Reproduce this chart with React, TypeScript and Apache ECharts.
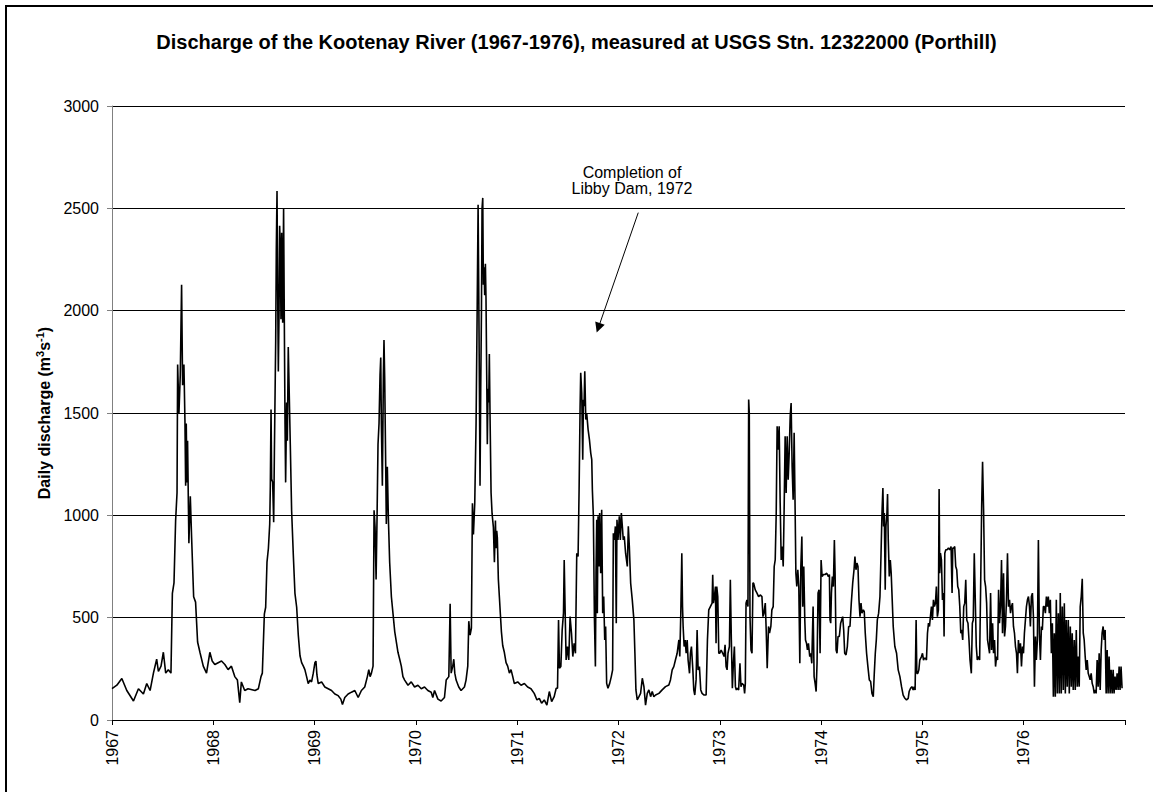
import React, { useEffect, useRef } from "react";
import * as echarts from "echarts";

// Daily discharge (m3/s), as [decimal year, value]
const q1967: [number, number][] = [
  [1967.000,153],[1967.048,170],[1967.097,203],[1967.146,144],[1967.212,93],[1967.261,153],[1967.310,127],[1967.343,178],[1967.376,144],[1967.409,229],[1967.441,297],[1967.458,237],[1967.484,263],[1967.507,331],[1967.530,229],[1967.556,246],[1967.582,229],[1967.596,619],[1967.612,670],[1967.628,975],[1967.642,1110],[1967.648,1737],[1967.661,1500],[1967.674,1686],[1967.687,2127],[1967.697,1636],[1967.710,1737],[1967.720,1466],[1967.727,1144],[1967.733,1449],[1967.740,1161],[1967.746,1364],[1967.759,864],[1967.773,1093],[1967.786,890],[1967.806,602],[1967.825,576],[1967.845,381],[1967.868,331],[1967.901,263],[1967.933,229],[1967.966,331],[1967.989,288]
];
const q1968: [number, number][] = [
  [1968.015,271],[1968.048,280],[1968.081,288],[1968.114,271],[1968.146,246],[1968.179,263],[1968.212,212],[1968.238,195],[1968.261,85],[1968.277,186],[1968.310,144],[1968.343,153],[1968.412,144],[1968.445,153],[1968.471,212],[1968.484,229],[1968.504,517],[1968.517,551],[1968.530,771],[1968.544,839],[1968.557,958],[1968.563,1144],[1968.570,1517],[1968.576,1178],[1968.586,1161],[1968.596,966],[1968.603,1305],[1968.616,1856],[1968.622,2297],[1968.629,2585],[1968.635,2127],[1968.642,1703],[1968.649,1992],[1968.655,2415],[1968.662,2297],[1968.668,1958],[1968.675,2381],[1968.685,1941],[1968.694,2500],[1968.701,1958],[1968.708,1449],[1968.714,1161],[1968.724,1551],[1968.731,1364],[1968.740,1822],[1968.750,1585],[1968.760,1347],[1968.773,1025],[1968.790,805],[1968.806,619],[1968.823,551],[1968.839,415],[1968.856,314],[1968.872,280],[1968.889,263],[1968.904,246],[1968.921,212],[1968.937,178],[1968.954,195],[1968.970,186],[1968.987,229]
];
const q1969: [number, number][] = [
  [1969.003,280],[1969.013,288],[1969.023,220],[1969.036,178],[1969.069,186],[1969.101,161],[1969.134,153],[1969.167,144],[1969.200,127],[1969.233,119],[1969.259,102],[1969.275,76],[1969.298,110],[1969.331,127],[1969.364,136],[1969.397,144],[1969.430,110],[1969.462,144],[1969.495,161],[1969.521,212],[1969.535,246],[1969.548,212],[1969.561,229],[1969.577,263],[1969.587,1025],[1969.597,941],[1969.607,687],[1969.617,1008],[1969.626,1347],[1969.636,1449],[1969.646,1686],[1969.653,1771],[1969.659,1449],[1969.669,1144],[1969.679,1686],[1969.685,1856],[1969.692,1669],[1969.702,1237],[1969.708,958],[1969.718,1237],[1969.728,992],[1969.741,771],[1969.758,602],[1969.791,432],[1969.823,331],[1969.840,297],[1969.856,263],[1969.872,212],[1969.889,195],[1969.922,170],[1969.954,186],[1969.987,161]
];
const q1970: [number, number][] = [
  [1970.020,170],[1970.053,153],[1970.085,161],[1970.118,144],[1970.151,136],[1970.167,110],[1970.184,144],[1970.217,102],[1970.249,93],[1970.282,110],[1970.299,195],[1970.325,212],[1970.338,568],[1970.348,229],[1970.364,263],[1970.374,297],[1970.384,229],[1970.397,195],[1970.423,161],[1970.446,144],[1970.479,161],[1970.495,195],[1970.512,263],[1970.522,483],[1970.535,415],[1970.548,449],[1970.558,1059],[1970.568,907],[1970.581,1059],[1970.594,1449],[1970.604,1958],[1970.614,2517],[1970.620,2127],[1970.627,1619],[1970.633,1144],[1970.640,1619],[1970.647,1992],[1970.653,2500],[1970.660,2551],[1970.666,2127],[1970.673,2212],[1970.679,2076],[1970.686,2229],[1970.692,2059],[1970.699,1686],[1970.705,1347],[1970.712,1619],[1970.719,1551],[1970.725,1788],[1970.732,1483],[1970.742,1110],[1970.752,1008],[1970.765,941],[1970.775,771],[1970.785,975],[1970.791,839],[1970.798,924],[1970.804,890],[1970.814,687],[1970.824,602],[1970.834,517],[1970.844,432],[1970.857,364],[1970.873,331],[1970.890,280],[1970.906,263],[1970.923,229],[1970.939,246],[1970.956,212],[1970.972,178]
];
const q1971: [number, number][] = [
  [1971.005,186],[1971.038,170],[1971.071,178],[1971.103,161],[1971.136,153],[1971.168,130],[1971.195,98],[1971.218,106],[1971.241,82],[1971.267,98],[1971.293,73],[1971.317,139],[1971.340,90],[1971.365,114],[1971.385,155],[1971.398,155],[1971.408,489],[1971.417,253],[1971.431,261],[1971.444,440],[1971.457,522],[1971.464,782],[1971.473,538],[1971.483,293],[1971.496,359],[1971.509,293],[1971.522,505],[1971.536,424],[1971.549,310],[1971.562,375],[1971.575,326],[1971.588,815],[1971.601,799],[1971.611,1125],[1971.621,1533],[1971.627,1696],[1971.637,1598],[1971.647,1272],[1971.654,1565],[1971.660,1533],[1971.667,1704],[1971.677,1468],[1971.686,1500],[1971.700,1419],[1971.713,1370],[1971.726,1304],[1971.736,1272],[1971.742,1125],[1971.752,995],[1971.762,505],[1971.772,261],[1971.778,717],[1971.785,978],[1971.791,522],[1971.798,995],[1971.808,750],[1971.814,1011],[1971.824,717],[1971.834,1027],[1971.844,522],[1971.854,603],[1971.864,391],[1971.873,457],[1971.883,179],[1971.896,155],[1971.913,179],[1971.929,212],[1971.942,245],[1971.949,913],[1971.959,880],[1971.969,946],[1971.978,473],[1971.985,978],[1971.995,880]
];
const q1972: [number, number][] = [
  [1972.008,995],[1972.018,880],[1972.028,1011],[1972.038,946],[1972.047,880],[1972.057,897],[1972.070,815],[1972.087,750],[1972.097,946],[1972.107,848],[1972.120,669],[1972.136,587],[1972.152,489],[1972.162,326],[1972.172,147],[1972.185,98],[1972.202,114],[1972.218,130],[1972.235,204],[1972.251,163],[1972.267,73],[1972.284,130],[1972.300,147],[1972.317,114],[1972.333,139],[1972.349,114],[1972.366,122],[1972.399,130],[1972.431,147],[1972.464,163],[1972.497,171],[1972.513,196],[1972.530,245],[1972.546,261],[1972.562,293],[1972.579,326],[1972.596,391],[1972.605,310],[1972.615,522],[1972.625,815],[1972.632,554],[1972.638,457],[1972.648,359],[1972.658,391],[1972.668,326],[1972.678,391],[1972.687,293],[1972.701,228],[1972.710,326],[1972.720,359],[1972.734,245],[1972.743,147],[1972.753,122],[1972.766,196],[1972.776,440],[1972.786,245],[1972.799,261],[1972.812,147],[1972.825,130],[1972.845,122],[1972.865,122],[1972.878,391],[1972.891,538],[1972.907,554],[1972.924,571],[1972.930,709],[1972.937,571],[1972.947,603],[1972.957,652],[1972.963,375],[1972.970,652],[1972.980,603],[1972.990,326]
];
const q1973: [number, number][] = [
  [1973.000,326],[1973.013,342],[1973.029,326],[1973.042,310],[1973.052,367],[1973.062,261],[1973.072,245],[1973.081,326],[1973.095,359],[1973.104,685],[1973.114,391],[1973.124,155],[1973.134,277],[1973.144,359],[1973.154,163],[1973.163,147],[1973.173,155],[1973.186,147],[1973.199,277],[1973.209,163],[1973.219,179],[1973.236,171],[1973.245,130],[1973.252,179],[1973.259,571],[1973.268,587],[1973.278,554],[1973.285,1566],[1973.291,1500],[1973.298,505],[1973.308,342],[1973.318,326],[1973.327,669],[1973.334,669],[1973.350,636],[1973.367,620],[1973.383,603],[1973.399,611],[1973.416,603],[1973.426,505],[1973.436,522],[1973.449,571],[1973.458,440],[1973.468,253],[1973.481,457],[1973.491,424],[1973.504,457],[1973.514,538],[1973.527,554],[1973.537,750],[1973.547,782],[1973.557,1011],[1973.566,1435],[1973.576,1321],[1973.586,1435],[1973.596,1060],[1973.606,782],[1973.616,848],[1973.626,750],[1973.636,1060],[1973.645,1386],[1973.655,1109],[1973.665,1386],[1973.675,1174],[1973.685,1304],[1973.695,1484],[1973.704,1549],[1973.714,1239],[1973.724,1076],[1973.734,1403],[1973.744,1011],[1973.751,717],[1973.760,652],[1973.770,734],[1973.780,652],[1973.790,277],[1973.800,750],[1973.810,897],[1973.819,554],[1973.829,750],[1973.839,489],[1973.846,391],[1973.856,375],[1973.865,342],[1973.875,375],[1973.888,310],[1973.898,326],[1973.908,277],[1973.921,554],[1973.931,212],[1973.941,179],[1973.951,139],[1973.960,277],[1973.970,620],[1973.980,636],[1973.990,326]
];
const q1974: [number, number][] = [
  [1974.000,782],[1974.010,701],[1974.023,711],[1974.039,711],[1974.056,717],[1974.072,701],[1974.082,711],[1974.088,489],[1974.095,473],[1974.102,620],[1974.111,701],[1974.121,652],[1974.131,880],[1974.138,717],[1974.148,342],[1974.157,326],[1974.167,408],[1974.180,408],[1974.193,473],[1974.203,489],[1974.213,505],[1974.223,440],[1974.233,326],[1974.246,318],[1974.259,359],[1974.272,457],[1974.285,457],[1974.298,571],[1974.312,669],[1974.325,734],[1974.334,799],[1974.344,734],[1974.354,767],[1974.364,750],[1974.374,587],[1974.384,505],[1974.394,571],[1974.403,522],[1974.417,538],[1974.426,530],[1974.436,424],[1974.449,326],[1974.462,261],[1974.476,196],[1974.489,188],[1974.502,130],[1974.515,114],[1974.525,228],[1974.535,326],[1974.545,391],[1974.555,489],[1974.568,522],[1974.581,603],[1974.591,799],[1974.601,1011],[1974.610,1134],[1974.617,946],[1974.624,1011],[1974.633,636],[1974.640,946],[1974.650,1011],[1974.656,1104],[1974.663,880],[1974.673,701],[1974.683,782],[1974.692,717],[1974.702,587],[1974.712,457],[1974.728,359],[1974.745,326],[1974.761,245],[1974.778,212],[1974.794,163],[1974.810,122],[1974.827,106],[1974.843,98],[1974.860,106],[1974.869,139],[1974.883,155],[1974.896,163],[1974.909,147],[1974.919,163],[1974.928,147],[1974.938,489],[1974.945,228],[1974.955,228],[1974.965,245],[1974.974,293],[1974.991,310]
];
const q1975: [number, number][] = [
  [1975.001,326],[1975.011,293],[1975.020,302],[1975.030,302],[1975.040,293],[1975.050,424],[1975.060,473],[1975.070,457],[1975.079,505],[1975.089,554],[1975.099,489],[1975.109,587],[1975.119,554],[1975.129,571],[1975.138,652],[1975.148,505],[1975.158,538],[1975.165,1129],[1975.171,717],[1975.178,815],[1975.188,782],[1975.198,587],[1975.208,620],[1975.214,408],[1975.221,815],[1975.231,832],[1975.244,832],[1975.257,840],[1975.270,832],[1975.283,848],[1975.293,620],[1975.300,840],[1975.310,840],[1975.319,848],[1975.329,750],[1975.339,734],[1975.349,652],[1975.359,636],[1975.369,554],[1975.379,424],[1975.388,440],[1975.398,391],[1975.408,554],[1975.418,571],[1975.428,685],[1975.438,489],[1975.450,473],[1975.460,391],[1975.470,293],[1975.483,228],[1975.493,473],[1975.502,489],[1975.512,815],[1975.522,587],[1975.532,359],[1975.542,293],[1975.555,310],[1975.565,293],[1975.575,652],[1975.585,1043],[1975.594,1262],[1975.604,1027],[1975.614,685],[1975.624,652],[1975.634,571],[1975.643,391],[1975.653,359],[1975.663,326],[1975.673,620],[1975.683,342],[1975.693,473],[1975.702,326],[1975.712,391],[1975.722,261],[1975.732,310],[1975.742,293],[1975.752,636],[1975.761,473],[1975.771,554],[1975.781,782],[1975.791,424],[1975.801,717],[1975.811,408],[1975.820,457],[1975.830,587],[1975.840,815],[1975.850,554],[1975.860,587],[1975.870,522],[1975.879,554],[1975.889,571],[1975.899,457],[1975.909,424],[1975.919,359],[1975.929,326],[1975.938,228],[1975.948,391],[1975.958,326],[1975.968,375],[1975.978,261],[1975.988,359],[1975.998,326]
];
const q1976: [number, number][] = [
  [1976.007,424],[1976.017,489],[1976.027,554],[1976.037,587],[1976.047,603],[1976.057,554],[1976.066,457],[1976.076,603],[1976.086,620],[1976.096,505],[1976.106,163],[1976.116,408],[1976.125,293],[1976.135,391],[1976.145,880],[1976.155,424],[1976.165,293],[1976.175,457],[1976.184,440],[1976.194,554],[1976.204,554],[1976.214,522],[1976.224,603],[1976.234,554],[1976.243,603],[1976.253,522],[1976.263,587],[1976.273,326],[1976.283,473],[1976.293,114],[1976.302,424],[1976.312,114],[1976.322,587],[1976.332,130],[1976.342,522],[1976.352,130],[1976.361,620],[1976.371,130],[1976.381,554],[1976.391,147],[1976.401,571],[1976.411,130],[1976.420,489],[1976.430,163],[1976.440,489],[1976.450,130],[1976.460,457],[1976.470,163],[1976.479,424],[1976.489,147],[1976.499,391],[1976.509,147],[1976.519,440],[1976.529,163],[1976.538,310],[1976.548,163],[1976.558,554],[1976.568,603],[1976.578,690],[1976.588,424],[1976.597,391],[1976.607,310],[1976.617,245],[1976.627,293],[1976.637,228],[1976.647,212],[1976.656,196],[1976.666,228],[1976.676,179],[1976.686,163],[1976.696,130],[1976.706,147],[1976.715,130],[1976.725,293],[1976.735,163],[1976.745,326],[1976.755,147],[1976.765,342],[1976.774,424],[1976.784,457],[1976.794,391],[1976.804,440],[1976.814,130],[1976.824,342],[1976.833,130],[1976.843,310],[1976.853,130],[1976.863,245],[1976.873,130],[1976.883,245],[1976.892,130],[1976.902,212],[1976.912,147],[1976.922,228],[1976.932,147],[1976.942,261],[1976.951,147],[1976.961,261],[1976.971,155]
];

const yearRange = [1967, 1977];
const yRange = [0, 3000];
const yStep = 500;
// annotation arrow, in data coordinates [year, discharge]
const arrowFrom: [number, number] = [1972.195, 2479];
const arrowTo: [number, number] = [1971.801, 1916];
const titleText = "Discharge of the Kootenay River (1967-1976), measured at USGS Stn. 12322000 (Porthill)";
const noteLines = ["Completion of", "Libby Dam, 1972"];

const FONT = "'Liberation Sans', Arial, Helvetica, sans-serif";

export default function App() {
  const ref = useRef<HTMLDivElement>(null);
  useEffect(() => {
    const el = ref.current;
    if (!el) return;
    const chart = echarts.init(el, null, { renderer: "svg" });
    const data = [...q1967, ...q1968, ...q1969, ...q1970, ...q1971, ...q1972, ...q1973, ...q1974, ...q1975, ...q1976];
    chart.setOption({
      animation: false,
      backgroundColor: "#ffffff",
      textStyle: { fontFamily: FONT },
      title: {
        text: titleText,
        left: "center",
        top: 27,
        textStyle: { fontFamily: FONT, fontSize: 20, fontWeight: "bold", color: "#000" },
      },
      grid: { left: 112, right: 28, top: 106, bottom: 72 },
      xAxis: {
        type: "value",
        min: yearRange[0],
        max: yearRange[1],
        interval: 1,
        axisLine: { lineStyle: { color: "#000", width: 1 } },
        axisTick: { length: 5, lineStyle: { color: "#000" } },
        axisLabel: {
          rotate: 90,
          margin: 10,
          fontSize: 16,
          color: "#000",
          fontFamily: FONT,
          formatter: (v: number) => (v < yearRange[1] ? String(v) : ""),
        },
        splitLine: { show: false },
      },
      yAxis: {
        type: "value",
        min: yRange[0],
        max: yRange[1],
        interval: yStep,
        name: "{a|Daily discharge (m}{s|3}{a|s}{s|-1}{a|)}",
        nameLocation: "middle",
        nameGap: 57,
        nameRotate: 90,
        nameTextStyle: {
          fontFamily: FONT,
          fontSize: 16,
          fontWeight: "bold",
          color: "#000",
          rich: {
            a: { fontFamily: FONT, fontSize: 16, fontWeight: "bold", color: "#000", lineHeight: 20 },
            s: { fontFamily: FONT, fontSize: 11, fontWeight: "bold", color: "#000", lineHeight: 12, verticalAlign: "top" },
          },
        },
        axisLine: { show: true, lineStyle: { color: "#808080", width: 1 } },
        axisTick: { show: true, length: 5, lineStyle: { color: "#808080" } },
        axisLabel: { fontSize: 16, color: "#000", margin: 13, fontFamily: FONT, formatter: (v: number) => String(v) },
        splitLine: { show: true, lineStyle: { color: "#000", width: 1 } },
      },
      series: [
        {
          type: "line",
          data,
          symbol: "none",
          showSymbol: false,
          lineStyle: { color: "#000", width: 1.6 },
          emphasis: { disabled: true },
          markLine: {
            silent: true,
            symbol: ["none", "triangle"],
            symbolSize: 10,
            label: { show: false },
            lineStyle: { color: "#000", width: 1, type: "solid" },
            emphasis: { disabled: true },
            data: [[{ coord: arrowFrom }, { coord: arrowTo }]],
          },
        },
      ],
      graphic: [
        {
          type: "rect",
          silent: true,
          z: 100,
          shape: { x: 6, y: 6, width: 1200, height: 900 },
          style: { fill: "none", stroke: "#000", lineWidth: 2 },
        },
        {
          type: "text",
          silent: true,
          x: 632,
          y: 172,
          style: { text: noteLines[0], font: `16px ${FONT}`, fill: "#000", textAlign: "center", textVerticalAlign: "middle" },
        },
        {
          type: "text",
          silent: true,
          x: 632,
          y: 188,
          style: { text: noteLines[1], font: `16px ${FONT}`, fill: "#000", textAlign: "center", textVerticalAlign: "middle" },
        },
      ],
    });
    return () => chart.dispose();
  }, []);
  return (
    <div
      ref={ref}
      style={{ position: "fixed", left: 0, top: 0, width: 1153, height: 792, background: "#fff" }}
    />
  );
}
